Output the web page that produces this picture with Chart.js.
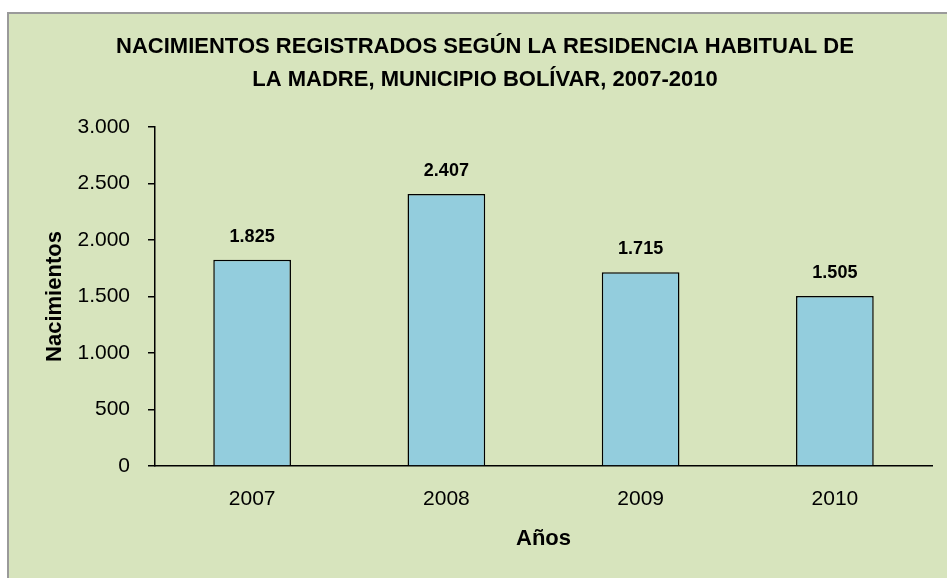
<!DOCTYPE html>
<html>
<head>
<meta charset="utf-8">
<script src="https://cdn.jsdelivr.net/npm/chart.js@4/dist/chart.umd.min.js"></script>
<style>
  html, body { margin: 0; padding: 0; background: #fff; }
  #chart { display: block; }
</style>
</head>
<body>
<canvas id="chart" width="947" height="578"></canvas>
<script>
// datos
const categories = ['2007', '2008', '2009', '2010'];
const births = [1825, 2407, 1715, 1505];
const yMax = 3000;
const yStep = 500;
const titleLines = ['NACIMIENTOS REGISTRADOS SEGÚN LA RESIDENCIA HABITUAL DE', 'LA MADRE, MUNICIPIO BOLÍVAR, 2007-2010'];

const FONT = "'Liberation Sans Narrow', 'Arial Narrow', 'Liberation Sans', sans-serif";

// separador de miles con punto
function fmt(v) {
    return String(v).replace(/\B(?=(\d{3})+(?!\d))/g, '.');
}

// fondo verde con marco gris
const frame = {
    id: 'frame',
    beforeDraw(chart) {
        const ctx = chart.ctx;
        ctx.save();
        ctx.fillStyle = '#ffffff';
        ctx.fillRect(0, 0, chart.width, chart.height);
        ctx.fillStyle = '#D7E4BD';
        ctx.fillRect(8, 13, chart.width, chart.height);
        ctx.strokeStyle = '#9a9a9a';
        ctx.lineWidth = 2;
        ctx.strokeRect(8, 13, chart.width + 10, chart.height + 10);
        ctx.restore();
    }
};

// etiquetas de valor encima de las barras
const barLabels = {
    id: 'barLabels',
    afterDatasetsDraw(chart) {
        const ctx = chart.ctx;
        const meta = chart.getDatasetMeta(0);
        ctx.save();
        ctx.font = 'bold 18px ' + FONT;
        ctx.fillStyle = '#000';
        ctx.textAlign = 'center';
        ctx.textBaseline = 'middle';
        meta.data.forEach((bar, i) => {
            ctx.fillText(fmt(births[i]), bar.x, bar.y - 23);
        });
        ctx.restore();
    }
};

const ctx = document.getElementById('chart').getContext('2d');

new Chart(ctx, {
    type: 'bar',
    data: {
        labels: categories,
        datasets: [{
            label: 'Nacimientos',
            data: births,
            backgroundColor: '#93CDDD',
            borderColor: '#000000',
            borderWidth: 1.5,
            categoryPercentage: 1,
            barPercentage: 0.4
        }]
    },
    options: {
        responsive: false,
        animation: false,
        // el padding izquierdo centra el título como en el original
        layout: { padding: { left: 38, right: 15, top: 0, bottom: 8 } },
        plugins: {
            legend: { display: false },
            tooltip: { enabled: false },
            title: {
                display: true,
                text: titleLines,
                color: '#000',
                font: { family: FONT, size: 22, weight: 'bold', lineHeight: 1.5 },
                padding: { top: 30.5, bottom: 30.5 }
            }
        },
        scales: {
            x: {
                grid: { display: false, drawTicks: false },
                border: { display: true, color: '#000', width: 1.5 },
                ticks: { color: '#000', padding: 21, font: { family: FONT, size: 21 } },
                title: {
                    display: true,
                    text: 'Años',
                    color: '#000',
                    font: { family: FONT, size: 22, weight: 'bold' },
                    padding: 18
                },
                afterFit(scale) { scale.height = 104; }
            },
            y: {
                min: 0,
                max: yMax,
                grid: { drawOnChartArea: false, drawTicks: true, tickLength: 7, color: '#000', lineWidth: 1.5 },
                border: { display: true, color: '#000', width: 1.5 },
                ticks: {
                    stepSize: yStep,
                    color: '#000',
                    padding: 18,
                    font: { family: FONT, size: 21 },
                    callback: v => fmt(v)
                },
                title: {
                    display: true,
                    text: 'Nacimientos',
                    color: '#000',
                    font: { family: FONT, size: 22, weight: 'bold' },
                    padding: 4
                },
                afterFit(scale) { scale.width = 117; }
            }
        }
    },
    plugins: [frame, barLabels]
});
</script>
</body>
</html>
